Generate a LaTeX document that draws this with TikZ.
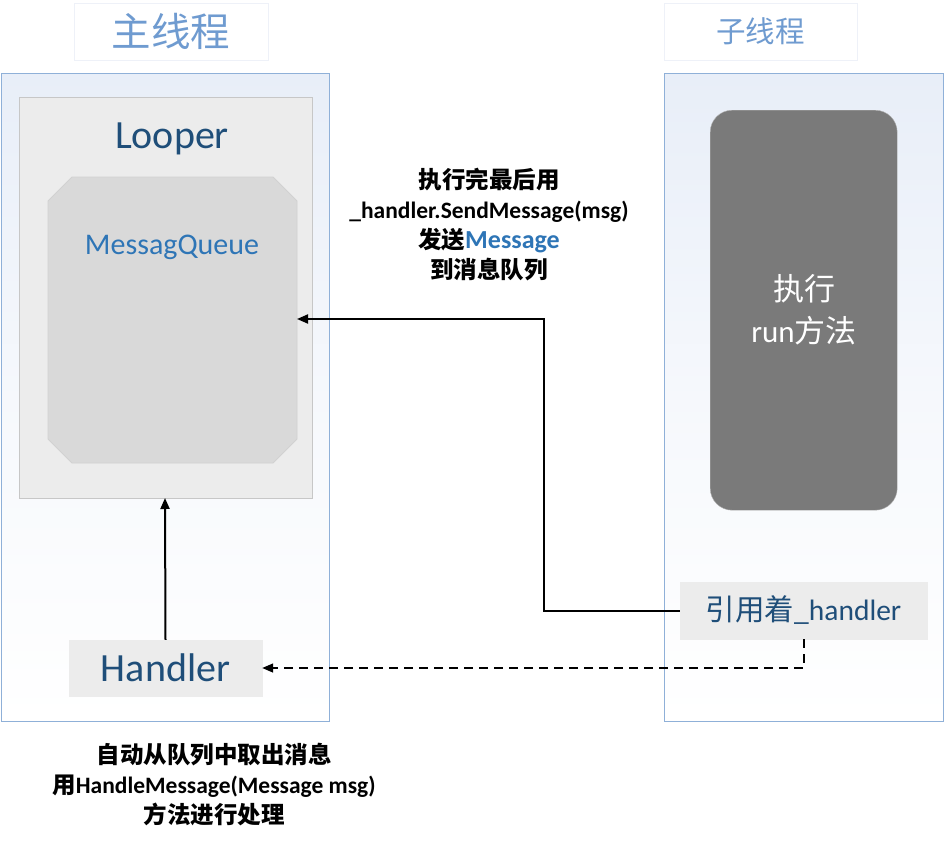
\documentclass[tikz,border=0pt]{standalone}
\usepackage{fontspec}
\setmainfont{Carlito}
\newfontfamily\cjk{Noto Sans CJK SC}
\usetikzlibrary{arrows.meta,shapes.misc,positioning}
\definecolor{titleblue}{HTML}{6F9BD0}
\definecolor{framblue}{HTML}{8FB0D8}
\definecolor{darkblue}{HTML}{1F4E79}
\definecolor{midblue}{HTML}{2E75B6}
\definecolor{lightgray}{HTML}{ECECEC}
\definecolor{qgray}{HTML}{D9D9D9}
\definecolor{dgray}{HTML}{7A7A7A}
\definecolor{tint}{HTML}{E8EEF8}
\definecolor{titleedge}{HTML}{EEF1F8}
\tikzset{
  titlebox/.style={draw=titleedge, fill=white, line width=0.8pt, minimum height=57pt, text=titleblue},
  threadbox/.style={draw=framblue, line width=1pt, top color=tint, bottom color=white, middle color=white!60!tint},
  graybox/.style={fill=lightgray, draw=lightgray, text=darkblue},
  conn/.style={line width=2pt, -{Triangle[length=11pt,width=9pt]}},
  dconn/.style={line width=1.4pt, dash pattern=on 9pt off 6pt, -{Triangle[length=11pt,width=9pt]}},
  label/.style={align=center, font=\fontsize{23.5}{30}\selectfont\bfseries, text=black},
}
\begin{document}
\begin{tikzpicture}[x=1pt,y=-1pt]
\useasboundingbox[fill=white] (0,0) rectangle (945,843);
% titles
\node[titlebox, minimum width=194pt, font=\fontsize{39.5}{42}\selectfont\cjk] (t1) at (171,31.5) {主线程};
\node[titlebox, minimum width=193pt, font=\fontsize{29.5}{32}\selectfont\cjk] (t2) at (760.5,31.5) {子线程};
% thread frames
\node[threadbox, minimum width=328pt, minimum height=648pt, anchor=north west, inner sep=0pt] (main) at (1,73) {};
\node[threadbox, minimum width=279pt, minimum height=648pt, anchor=north west, inner sep=0pt] (sub) at (664,73) {};
% looper
\node[fill=lightgray, draw=black!22, line width=0.8pt, minimum width=293pt, minimum height=401pt, anchor=north west, inner sep=0pt] (looper) at (19,97) {};
\node[text=darkblue, font=\fontsize{40}{44}\selectfont] (looperlbl) at (172,139) {Looper};
% message queue octagon
\draw[fill=qgray, draw=black!18, line width=0.8pt] (72,177) -- (273,177) -- (297,201) -- (297,439) -- (273,463) -- (72,463) -- (48,439) -- (48,201) -- cycle;
\coordinate (mqright) at (297,319);
\node[text=midblue, font=\fontsize{30}{34}\selectfont] (mq) at (172,247) {MessagQueue};
% handler
\node[graybox, minimum width=193pt, minimum height=56pt, font=\fontsize{40}{44}\selectfont, inner sep=0pt] (handler) at (165.5,668) {Handler};
% sub thread run box
\node[fill=dgray, draw=black!30, rounded corners=22pt, minimum width=187pt, minimum height=400pt, anchor=north west, inner sep=0pt] (run) at (710,110) {};
\node[text=white, align=center, font=\fontsize{31}{42}\selectfont] (runlbl) at (804,310) {{\cjk 执行}\\run{\cjk 方法}};
% reference handler
\node[graybox, minimum width=247pt, minimum height=57pt, font=\fontsize{29.5}{32}\selectfont, inner sep=0pt] (ref) at (803.5,610.5) {{\cjk 引用着}\_handler};
% connectors
\draw[conn] (handler.north) -- (165,498);
\draw[conn] (ref.west) -| (544,319) -- (mqright);
\draw[dconn] (ref.south -| 804,0) |- (handler.east);
% labels
\node[label] (lbl1) at (489,225) {{\cjk 执行完最后用}\\\_handler.SendMessage(msg)\\{\cjk 发送}\textcolor{midblue}{\fontsize{26}{30}\selectfont Message}\\{\cjk 到消息队列}};
\node[label] (lbl2) at (214,785) {{\cjk 自动从队列中取出消息}\\{\cjk 用}HandleMessage(Message msg)\\{\cjk 方法进行处理}};
\end{tikzpicture}
\end{document}
